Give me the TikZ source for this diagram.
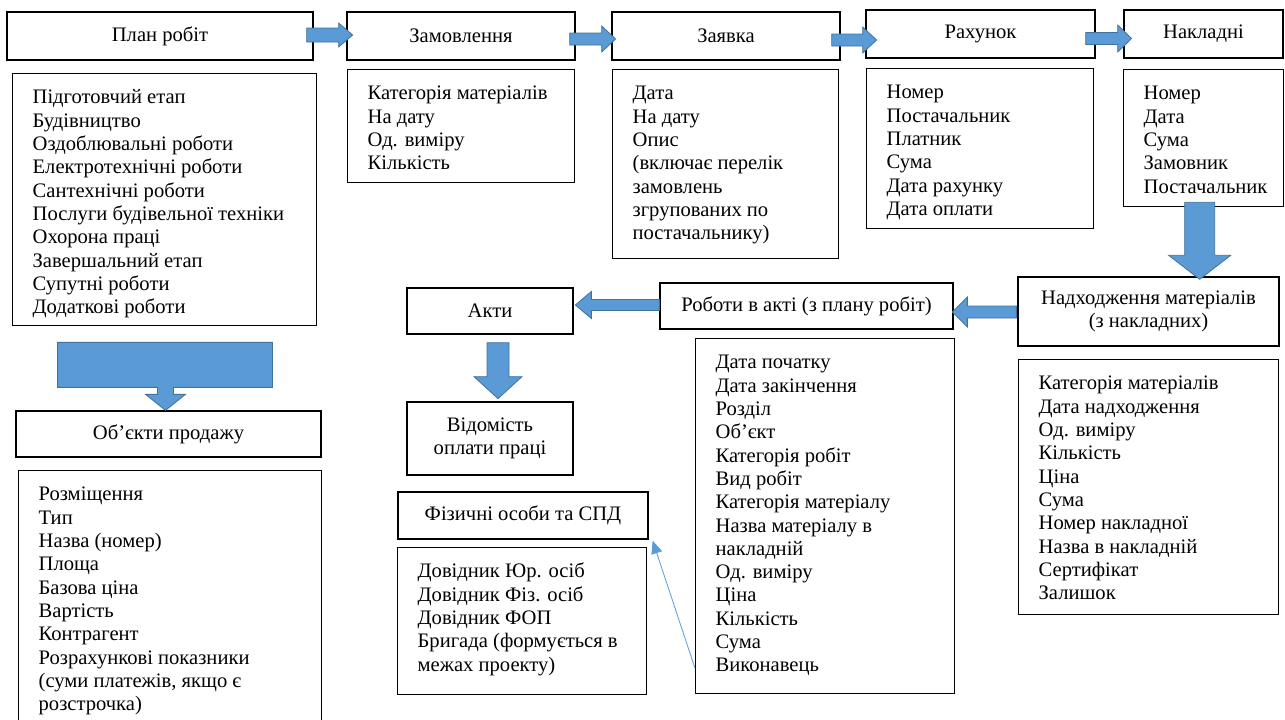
\documentclass[tikz,border=0pt]{standalone}
\usepackage{fontspec}
\setmainfont{Liberation Serif}
\usetikzlibrary{arrows.meta}
\definecolor{arrowblue}{HTML}{5B9BD5}
\definecolor{arrowedge}{HTML}{41719C}
\newcommand{\fieldlist}[3]{\parbox[t][#2][t]{#1}{\raggedright\strut #3}}
% tail, angle, length, shaft width, head width, head length
\newcommand{\blockarrow}[6]{\draw[fatarrow,shift={#1},rotate=#2] (0,{#4/2}) -- ({#3-#6},{#4/2}) -- ({#3-#6},{#5/2}) -- (#3,0)
    -- ({#3-#6},{-#5/2}) -- ({#3-#6},{-#4/2}) -- (0,{-#4/2}) -- cycle;}

\begin{document}
\begin{tikzpicture}[x=1pt,y=-1pt,font=\fontsize{20.6}{23.3}\selectfont,
    headbox/.style={draw,line width=1.3pt,inner sep=0pt,align=center},
    fieldbox/.style={draw,line width=1.3pt,anchor=north west,inner xsep=20pt,inner ysep=14pt},
    fatarrow/.style={draw=arrowedge,fill=arrowblue,line width=0.8pt,line join=miter},
    thinlink/.style={arrowblue,line width=0.8pt,-{Triangle[length=13pt,width=11pt]}}]
    \useasboundingbox (0,0) rectangle (1285,720);
    % Top row
    \node[headbox,minimum width=306pt,minimum height=48pt] (plan) at (160,36) {План робіт};
    \node[headbox,minimum width=228pt,minimum height=48pt] (order) at (461,36) {Замовлення};
    \node[headbox,minimum width=228pt,minimum height=48pt] (request) at (726,36) {Заявка};
    \node[headbox,minimum width=229pt,minimum height=48pt] (invoice) at (980.5,34) {Рахунок};
    \node[headbox,minimum width=159pt,minimum height=48pt] (waybill) at (1203.5,34) {Накладні};
    \node[fieldbox] (planlist) at (12,73) {\fieldlist{264pt}{224pt}{Підготовчий етап\\Будівництво\\Оздоблювальні роботи\\Електротехнічні роботи\\Сантехнічні роботи\\Послуги будівельної техніки\\Охорона праці\\Завершальний етап\\Супутні роботи\\Додаткові роботи}};
    \node[fieldbox] (orderlist) at (347,69) {\fieldlist{187pt}{85pt}{Категорія матеріалів\\На дату\\Од. виміру\\Кількість}};
    \node[fieldbox] (requestlist) at (612,69) {\fieldlist{186pt}{161pt}{Дата\\На дату\\Опис\\(включає перелік\\замовлень\\згрупованих по\\постачальнику)}};
    \node[fieldbox] (invoicelist) at (866,68) {\fieldlist{187pt}{132pt}{Номер\\Постачальник\\Платник\\Сума\\Дата рахунку\\Дата оплати}};
    \node[fieldbox] (waybilllist) at (1123,69) {\fieldlist{120pt}{109pt}{Номер\\Дата\\Сума\\Замовник\\Постачальник}};
    % Receipts and acts
    \node[headbox,minimum width=261pt,minimum height=69pt] (receipt) at (1148.5,311.5) {Надходження матеріалів\\(з накладних)};
    \node[fieldbox] (receiptlist) at (1018,359) {\fieldlist{220pt}{227pt}{Категорія матеріалів\\Дата надходження\\Од. виміру\\Кількість\\Ціна\\Сума\\Номер накладної\\Назва в накладній\\Сертифікат\\Залишок}};
    \node[headbox,minimum width=293pt,minimum height=46pt] (works) at (806.5,306) {Роботи в акті (з плану робіт)};
    \node[fieldbox] (workslist) at (695,338) {\fieldlist{219pt}{327pt}{Дата початку\\Дата закінчення\\Розділ\\Об’єкт\\Категорія робіт\\Вид робіт\\Категорія матеріалу\\Назва матеріалу в\\накладній\\Од. виміру\\Ціна\\Кількість\\Сума\\Виконавець}};
    \node[headbox,minimum width=166pt,minimum height=46pt] (acts) at (490,311) {Акти};
    \node[headbox,minimum width=166pt,minimum height=73pt] (payroll) at (490,438.5) {Відомість\\оплати праці};
    \node[headbox,minimum width=250pt,minimum height=47pt] (persons) at (523,515.5) {Фізичні особи та СПД};
    \node[fieldbox] (personslist) at (397,547) {\fieldlist{209pt}{119pt}{Довідник Юр. осіб\\Довідник Фіз. осіб\\Довідник ФОП\\Бригада (формується в\\межах проекту)}};
    % Sale objects
    \node[headbox,minimum width=305pt,minimum height=46pt] (objects) at (168.5,434) {Об’єкти продажу};
    \node[fieldbox] (objectslist) at (18,470) {\fieldlist{263pt}{242pt}{Розміщення\\Тип\\Назва (номер)\\Площа\\Базова ціна\\Вартість\\Контрагент\\Розрахункові показники\\(суми платежів, якщо є\\розстрочка)}};
    % Arrows
    \blockarrow{([xshift=-7pt,yshift=1pt]plan.east)}{0}{46}{14}{24}{14}
    \blockarrow{([xshift=-6pt,yshift=-3pt]order.east)}{0}{46}{12}{26}{14}
    \blockarrow{([xshift=-9pt,yshift=-4pt]request.east)}{0}{45}{12}{26}{14}
    \blockarrow{([xshift=-10pt,yshift=-4.5pt]invoice.east)}{0}{46}{12}{27}{14}
    \blockarrow{([xshift=-4pt,yshift=5pt]waybilllist.south)}{-90}{77}{30}{62}{24}
    \blockarrow{([xshift=-1pt,yshift=-0.5pt]receipt.west)}{180}{64}{12}{30}{15}
    \blockarrow{([yshift=1pt]works.west)}{180}{84}{11}{27}{16}
    \blockarrow{([xshift=8pt,yshift=-8pt]acts.south)}{-90}{56}{22}{48}{22}
    \draw[fatarrow] ([xshift=-3pt]objects.north) -- ++(-20,-16) -- ++(12,0) -- ++(0,-7) -- ++(-100,0) -- ++(0,-45)
        -- ++(215,0) -- ++(0,45) -- ++(-99,0) -- ++(0,7) -- ++(12,0) -- cycle;
    \draw[thinlink] ([yshift=26pt]workslist.south west) -- ([xshift=4pt,yshift=-1pt]persons.south east);
\end{tikzpicture}
\end{document}
